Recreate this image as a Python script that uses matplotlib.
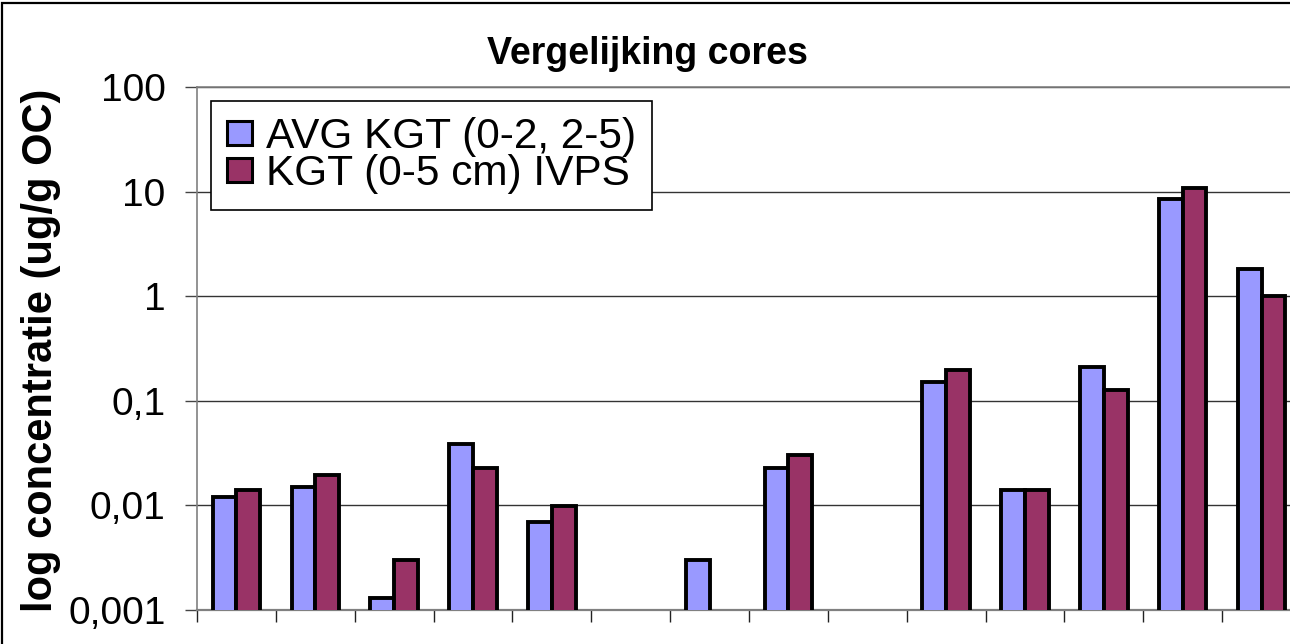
import numpy as np
import matplotlib
matplotlib.use("Agg")
import matplotlib.pyplot as plt
from matplotlib.patches import Rectangle
from matplotlib.ticker import FixedLocator, FixedFormatter, NullLocator

plt.rcParams['font.family'] = ['Liberation Sans', 'DejaVu Sans']

# data (14 cores, no category labels shown)
positions = list(range(14))
avg_kgt = [0.012, 0.015, 0.0013, 0.039, 0.007, np.nan, 0.003,
           0.023, np.nan, 0.15, 0.014, 0.21, 8.5, 1.8]
kgt_ivps = [0.014, 0.0195, 0.003, 0.023, 0.0099, np.nan, np.nan,
            0.030, np.nan, 0.195, 0.014, 0.128, 10.9, 1.0]
series_names = ['AVG KGT (0-2, 2-5)', 'KGT (0-5 cm) IVPS']
ytick_vals = [0.001, 0.01, 0.1, 1, 10, 100]
ytick_labels = ['0,001', '0,01', '0,1', '1', '10', '100']

W, H = 1290, 644
fig = plt.figure(figsize=(W / 100, H / 100), dpi=100)
ax = fig.add_axes([197 / W, 34 / H, (1301 - 197) / W, (610 - 87) / H])

x = np.array(positions)
bw = 0.3
ax.bar(x - bw / 2, avg_kgt, bw, color='#9999FF', edgecolor='black',
       linewidth=2.8, label=series_names[0], zorder=3)
ax.bar(x + bw / 2, kgt_ivps, bw, color='#993366', edgecolor='black',
       linewidth=2.8, label=series_names[1], zorder=3)

ax.set_yscale('log')
ax.set_ylim(0.001, 100)
ax.set_xlim(-0.5, 13.5)
ax.yaxis.set_major_locator(FixedLocator(ytick_vals))
ax.yaxis.set_major_formatter(FixedFormatter(ytick_labels))
ax.yaxis.set_minor_locator(NullLocator())
ax.set_xticks(np.arange(-0.5, 14, 1))
ax.set_xticklabels([])
ax.tick_params(axis='x', direction='out', length=8.6, width=1, color='#222222')
ax.tick_params(axis='y', direction='out', length=8.6, width=1, color='#444444',
               labelsize=28, pad=14)

ax.yaxis.grid(True, color='#333333', linewidth=1)
ax.set_axisbelow(True)
for side in ['left', 'top', 'bottom']:
    ax.spines[side].set_color('#808080')
ax.spines['bottom'].set_linewidth(1.6)
ax.spines['left'].set_linewidth(1.2)
ax.spines['top'].set_linewidth(1.2)
ax.spines['right'].set_visible(False)

fig.text(647.5 / W, 1 - 64 / H, 'Vergelijking cores', ha='center',
         va='baseline', fontsize=27, fontweight='bold')
fig.text(41 / W, 1 - 350 / H, 'log concentratie (ug/g OC)', rotation=90,
         ha='center', va='center', fontsize=30, fontweight='bold')

leg = ax.legend(loc='upper left', bbox_to_anchor=(211 / W, 1 - 101 / H),
                bbox_transform=fig.transFigure, fontsize=30.5, frameon=True,
                fancybox=False, shadow=False, handlelength=0.58,
                handleheight=0.5, handletextpad=0.33, labelspacing=-0.08,
                borderpad=0.38, borderaxespad=0)
leg.get_frame().set_edgecolor('black')
leg.get_frame().set_linewidth(1.2)
leg.get_frame().set_alpha(1)
for h in leg.legend_handles:
    h.set_linewidth(2.2)

# outer border of the (cropped) chart area
fig.patches.append(Rectangle((2 / W, -0.2), 1.2, 1.2 - 3 / H, fill=False,
                             edgecolor='black', linewidth=1.6,
                             transform=fig.transFigure, figure=fig))

fig.savefig('out.png', dpi=100)
